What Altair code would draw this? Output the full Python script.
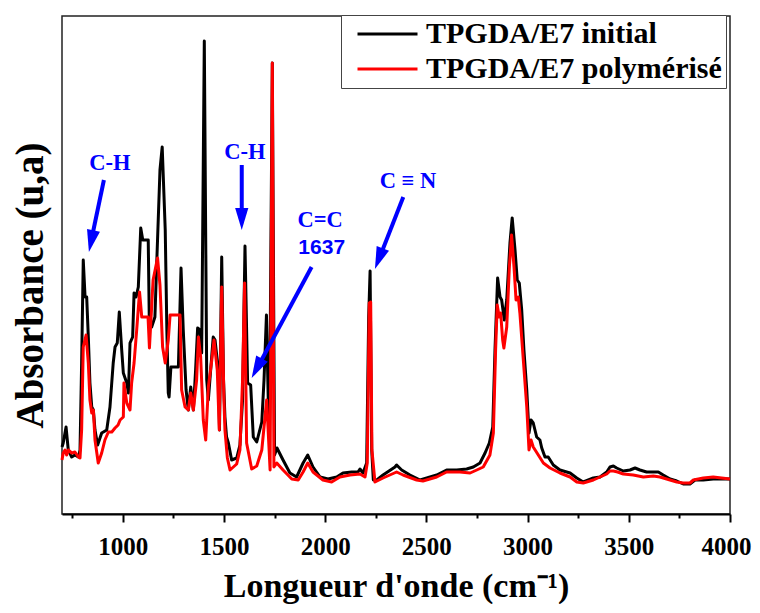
import altair as alt
import pandas as pd

# ---------------- data ----------------
series_names = ["TPGDA/E7 initial", "TPGDA/E7 polymérisé"]
series_colors = ["#000000", "#FF0000"]

wn_initial = [700, 706, 720, 731, 748, 764, 781, 789, 797, 805,
              814, 822, 830, 838, 847, 855, 863, 876, 896, 921,
              937, 953, 962, 973, 983, 995, 1003, 1020, 1028, 1036,
              1049, 1056, 1066, 1077, 1089, 1099, 1126, 1131, 1143, 1159,
              1168, 1184, 1195, 1210, 1218, 1225, 1229, 1238, 1275, 1288,
              1299, 1313, 1324, 1336, 1349, 1360, 1370, 1382, 1390, 1403,
              1415, 1423, 1447, 1456, 1472, 1478, 1489, 1498, 1505, 1513,
              1522, 1538, 1563, 1579, 1592, 1604, 1617, 1632, 1645, 1662,
              1687, 1698, 1710, 1719, 1725, 1739, 1750, 1762, 1792, 1826,
              1859, 1891, 1914, 1940, 1975, 2014, 2057, 2088, 2131, 2162,
              2172, 2187, 2205, 2215, 2222, 2230, 2238, 2255, 2286, 2345,
              2353, 2378, 2419, 2469, 2502, 2551, 2600, 2650, 2699, 2732,
              2765, 2790, 2811, 2828, 2839, 2852, 2864, 2872, 2885, 2897,
              2913, 2924, 2938, 2949, 2959, 2971, 2982, 2996, 3007, 3017,
              3028, 3045, 3061, 3070, 3086, 3102, 3127, 3160, 3210, 3243,
              3275, 3325, 3358, 3391, 3407, 3424, 3440, 3473, 3506, 3531,
              3555, 3588, 3621, 3646, 3670, 3704, 3737, 3769, 3802, 3827,
              3868, 3917, 4000]
abs_initial = [67, 71, 87, 64, 57, 59, 57, 64, 151, 254,
               217, 217, 177, 131, 107, 104, 84, 69, 81, 84,
               107, 151, 167, 171, 202, 164, 141, 131, 121, 171,
               177, 221, 217, 227, 286, 274, 274, 197, 187, 197,
               251, 344, 367, 284, 184, 121, 117, 147, 147, 246,
               184, 124, 104, 127, 104, 144, 186, 184, 161, 473,
               134, 114, 177, 174, 144, 84, 257, 134, 97, 77,
               71, 54, 56, 69, 114, 268, 131, 129, 77, 72,
               92, 134, 199, 114, 84, 451, 59, 66, 54, 41,
               37, 51, 59, 47, 37, 35, 37, 41, 42, 42,
               45, 41, 51, 197, 243, 64, 34, 34, 39, 47,
               49, 44, 39, 34, 36, 39, 44, 44, 45, 47,
               51, 61, 71, 87, 164, 236, 217, 214, 194, 214,
               271, 296, 264, 234, 231, 204, 164, 124, 81, 94,
               91, 77, 74, 66, 57, 57, 49, 44, 41, 36,
               32, 36, 37, 42, 47, 48, 46, 43, 44, 46,
               44, 42, 42, 42, 39, 35, 33, 30, 30, 34,
               34, 35, 35]

wn_poly = [700, 706, 715, 723, 731, 748, 764, 781, 789, 797,
           805, 819, 830, 838, 847, 855, 863, 879, 896, 912,
           929, 946, 962, 977, 987, 1003, 1006, 1020, 1036, 1044,
           1056, 1069, 1083, 1094, 1125, 1132, 1150, 1172, 1184, 1197,
           1210, 1225, 1234, 1283, 1291, 1308, 1324, 1336, 1349, 1365,
           1374, 1385, 1398, 1410, 1423, 1440, 1451, 1467, 1477, 1489,
           1500, 1505, 1517, 1530, 1563, 1579, 1592, 1602, 1612, 1637,
           1662, 1687, 1711, 1728, 1739, 1747, 1761, 1792, 1835, 1867,
           1891, 1914, 1940, 1989, 2032, 2073, 2123, 2172, 2197, 2208,
           2218, 2225, 2231, 2246, 2286, 2353, 2385, 2452, 2483, 2551,
           2600, 2666, 2716, 2749, 2781, 2814, 2831, 2842, 2850, 2860,
           2867, 2877, 2883, 2897, 2910, 2921, 2933, 2943, 2954, 2962,
           2979, 2996, 3007, 3017, 3028, 3053, 3078, 3111, 3160, 3210,
           3243, 3275, 3325, 3358, 3391, 3407, 3424, 3445, 3473, 3522,
           3572, 3621, 3654, 3687, 3737, 3769, 3802, 3819, 3868, 3917,
           4000]
abs_poly = [54, 61, 64, 59, 64, 61, 62, 57, 56, 84,
            167, 179, 151, 114, 101, 104, 74, 51, 61, 74,
            82, 82, 86, 89, 94, 97, 131, 111, 104, 131,
            151, 184, 222, 197, 197, 166, 234, 256, 229, 167,
            151, 174, 199, 199, 124, 107, 104, 121, 104, 134,
            177, 157, 94, 74, 127, 154, 174, 144, 84, 227,
            114, 84, 56, 44, 50, 64, 134, 231, 71, 45,
            48, 64, 114, 44, 451, 47, 51, 44, 35, 34,
            42, 51, 42, 34, 32, 37, 39, 40, 37, 51,
            211, 212, 64, 32, 36, 42, 39, 34, 33, 37,
            42, 42, 41, 44, 47, 59, 81, 164, 209, 197,
            201, 174, 166, 187, 247, 279, 247, 214, 217, 201,
            154, 107, 64, 74, 67, 59, 51, 46, 41, 37,
            32, 31, 34, 37, 40, 43, 43, 42, 40, 39,
            37, 38, 37, 35, 32, 31, 31, 34, 36, 37,
            35]

x_ticks = [750, 1000, 1250, 1500, 1750, 2000, 2250, 2500, 2750,
           3000, 3250, 3500, 3750, 4000]

# band annotations (serif bold) and the "1637" label (sans bold)
ann_text = ["C-H", "C-H", "C=C", "C \u2261 N"]
ann_wn = [937, 1604, 1975, 2409]
ann_abs = [351, 362, 294, 333]
ann2_text = ["1637"]
ann2_wn = [1983]
ann2_abs = [266]

# arrows: start, shaft end, tip and head angle
arrow_wn_start = [907, 1588, 1933, 2386]
arrow_abs_start = [334, 349, 247, 317]
arrow_wn_end = [845, 1588, 1667, 2268]
arrow_abs_end = [274, 296, 147, 256]
arrow_wn_tip = [833, 1588, 1637, 2246]
arrow_abs_tip = [262, 284, 136, 245]
arrow_angle = [12, 0, 28, 21]

# ---------------- tables ----------------
spectra = pd.concat([
    pd.DataFrame({"wn": wn_initial, "abs": abs_initial, "serie": series_names[0]}),
    pd.DataFrame({"wn": wn_poly, "abs": abs_poly, "serie": series_names[1]}),
], ignore_index=True)
ann_df = pd.DataFrame({"wn": ann_wn, "abs": ann_abs, "txt": ann_text})
ann2_df = pd.DataFrame({"wn": ann2_wn, "abs": ann2_abs, "txt": ann2_text})
shaft_df = pd.DataFrame({"wn": arrow_wn_start, "abs": arrow_abs_start,
                         "wn_end": arrow_wn_end, "abs_end": arrow_abs_end})
head_df = pd.DataFrame({"wn": arrow_wn_tip, "abs": arrow_abs_tip, "angle": arrow_angle})

SERIF = "Liberation Serif"
SANS = "Liberation Sans"
BLUE = "#0000FF"

xscale = alt.Scale(domain=[700, 4000], nice=False, zero=False)
yscale = alt.Scale(domain=[0, 498], nice=False, zero=True)

xaxis = alt.Axis(
    title="Longueur d'onde (cm\u207b\u00b9)",
    values=x_ticks, format="d",
    labelExpr="datum.value % 500 === 0 ? datum.label : ''",
    labelFlush=False, labelOverlap=False, grid=False,
    tickSize={"condition": {"test": "datum.value % 500 === 0", "value": 8}, "value": 4},
    labelOffset={"condition": {"test": "datum.value === 4000", "value": -4}, "value": 0},
    tickWidth=2, tickColor="black", domainColor="black", domainWidth=2,
    labelFont=SERIF, labelFontSize=25, labelFontWeight="bold", labelColor="black",
    labelPadding=12,
    titleFont=SERIF, titleFontSize=34, titleFontWeight="bold", titleColor="black",
    titlePadding=10,
)
yaxis = alt.Axis(
    title="Absorbance (u,a)", labels=False, ticks=False, domain=False, grid=False,
    titleFont=SERIF, titleFontSize=39, titleFontWeight="bold", titleColor="black",
    titlePadding=12, titleY=269,
)

x_enc = alt.X("wn:Q", scale=xscale, axis=xaxis)
y_enc = alt.Y("abs:Q", scale=yscale, axis=yaxis)

lines = alt.Chart(spectra).mark_line(strokeWidth=3, strokeJoin="round").encode(
    x=x_enc, y=y_enc,
    color=alt.Color(
        "serie:N",
        scale=alt.Scale(domain=series_names, range=series_colors),
        legend=alt.Legend(
            title=None, orient="none", legendX=279, legendY=-1,
            symbolType="stroke", symbolSize=3600, symbolStrokeWidth=3,
            symbolOffset=11, labelOffset=7,
            labelFont=SERIF, labelFontSize=30, labelFontWeight="bold",
            labelColor="black", labelLimit=0,
            padding=4, clipHeight=30, rowPadding=5,
            strokeColor="#444444", fillColor="white",
        ),
    ),
    order=alt.Order("wn:Q"),
)

shafts = alt.Chart(shaft_df).mark_rule(color=BLUE, strokeWidth=4).encode(
    x=x_enc, y=y_enc, x2="wn_end:Q", y2="abs_end:Q",
)

heads = alt.Chart(head_df).mark_point(
    shape="M-0.6,-2L0,0L0.6,-2Z", filled=True, size=484, color=BLUE,
    opacity=1, strokeWidth=0,
).encode(
    x=x_enc, y=y_enc, angle=alt.Angle("angle:Q", scale=None),
)

labels_serif = alt.Chart(ann_df).mark_text(
    font=SERIF, fontSize=22.5, fontWeight="bold", color=BLUE,
    align="center", baseline="middle",
).encode(x=x_enc, y=y_enc, text="txt:N")

labels_sans = alt.Chart(ann2_df).mark_text(
    font=SANS, fontSize=21, fontWeight="bold", color=BLUE,
    align="center", baseline="middle",
).encode(x=x_enc, y=y_enc, text="txt:N")

chart = alt.layer(lines, shafts, heads, labels_serif, labels_sans).properties(
    width=668, height=498,
    autosize=alt.AutoSizeParams(type="none"),
    padding={"left": 54, "top": 8, "right": 22, "bottom": 90},
    background="white",
).configure_view(stroke="#222222", strokeWidth=1.5)

chart.save("out.html", embed_options={"renderer": "svg", "actions": False})
